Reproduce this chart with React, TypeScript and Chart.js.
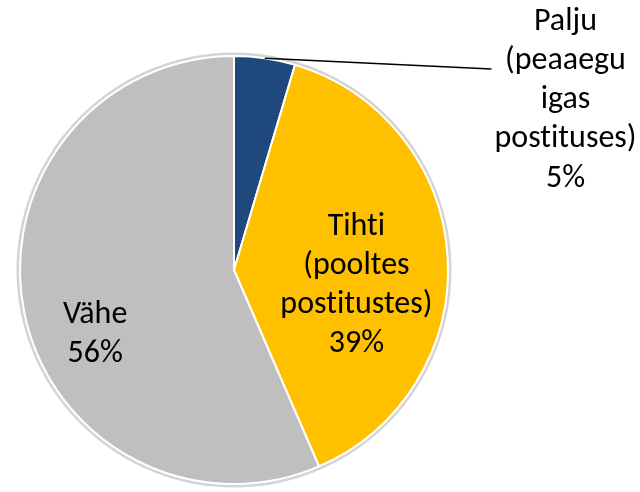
import React, { useEffect, useRef } from "react";
import { Chart, registerables } from "chart.js";

Chart.register(...registerables);

const categories = ["Palju (peaaegu igas postituses)", "Tihti (pooltes postitustes)", "Vähe"];
const labelLines = [["Palju", "(peaaegu", "igas", "postituses)"], ["Tihti", "(pooltes", "postitustes)"], ["Vähe"]];
const values = [4.6, 38.9, 56.5];
const percentLabels = ["5%", "39%", "56%"];
const colors = ["#1F497D", "#FFC000", "#BFBFBF"];

// label anchors (middle of the baselines) in units of radius relative to pie centre
const anchors = [
  { dx: 1.549, dy: -0.756, outside: true },
  { dx: 0.572, dy: 0.109, outside: false },
  { dx: -0.649, dy: 0.34, outside: false },
];

const FONT = "32px Carlito, Calibri, Lato, sans-serif";
const LINE_H = 39.2;

// break typographic ligatures (e.g. "ti") when drawing
const noLig = (t: string) => t.replace(/t(?=i)/g, "t\u200C");

const labelPlugin = {
  id: "pieLabels",
  beforeDatasetsDraw(chart: any) {
    const meta = chart.getDatasetMeta(0);
    const arc = meta.data[0];
    if (!arc) return;
    const { x, y, outerRadius } = arc.getProps(["x", "y", "outerRadius"], true);
    const ctx = chart.ctx;
    ctx.save();
    ctx.beginPath();
    ctx.arc(x, y, outerRadius + 2, 0, Math.PI * 2);
    ctx.strokeStyle = "#d4d4d4";
    ctx.lineWidth = 3;
    ctx.stroke();
    ctx.restore();
  },
  afterDatasetsDraw(chart: any) {
    const meta = chart.getDatasetMeta(0);
    const ctx = chart.ctx;
    ctx.save();
    ctx.font = FONT;
    ctx.fillStyle = "#000";
    ctx.textAlign = "center";
    ctx.textBaseline = "alphabetic";
    meta.data.forEach((el: any, i: number) => {
      const { x, y, outerRadius, startAngle, endAngle } = el.getProps(
        ["x", "y", "outerRadius", "startAngle", "endAngle"],
        true
      );
      const a = anchors[i];
      const cx = x + a.dx * outerRadius;
      const cy = y + a.dy * outerRadius;
      const lines = [...labelLines[i], percentLabels[i]];
      const top = cy - ((lines.length - 1) * LINE_H) / 2;
      lines.forEach((t, k) => ctx.fillText(noLig(t), cx, top + k * LINE_H));
      if (a.outside) {
        const mid = (startAngle + endAngle) / 2;
        const sx = x + Math.cos(mid) * outerRadius;
        const sy = y + Math.sin(mid) * outerRadius;
        ctx.beginPath();
        ctx.moveTo(sx, sy);
        ctx.lineTo(cx - 74, top + LINE_H);
        ctx.strokeStyle = "#000";
        ctx.lineWidth = 1.6;
        ctx.stroke();
      }
    });
    ctx.restore();
  },
};

export default function App() {
  const ref = useRef<HTMLCanvasElement>(null);
  useEffect(() => {
    if (!ref.current) return;
    const chart = new Chart(ref.current, {
      type: "pie",
      data: {
        labels: categories,
        datasets: [
          {
            data: values,
            backgroundColor: colors,
            borderColor: "#ffffff",
            borderWidth: 2,
          },
        ],
      },
      options: {
        responsive: false,
        animation: false,
        layout: { padding: { left: 19, right: 191, top: 55, bottom: 7 } },
        plugins: {
          legend: { display: false },
          tooltip: { enabled: false },
        },
      },
      plugins: [labelPlugin],
    });
    return () => chart.destroy();
  }, []);
  return (
    <div style={{ position: "fixed", left: 0, top: 0, width: 640, height: 492, background: "#fff" }}>
      <canvas ref={ref} width={640} height={492} />
    </div>
  );
}
